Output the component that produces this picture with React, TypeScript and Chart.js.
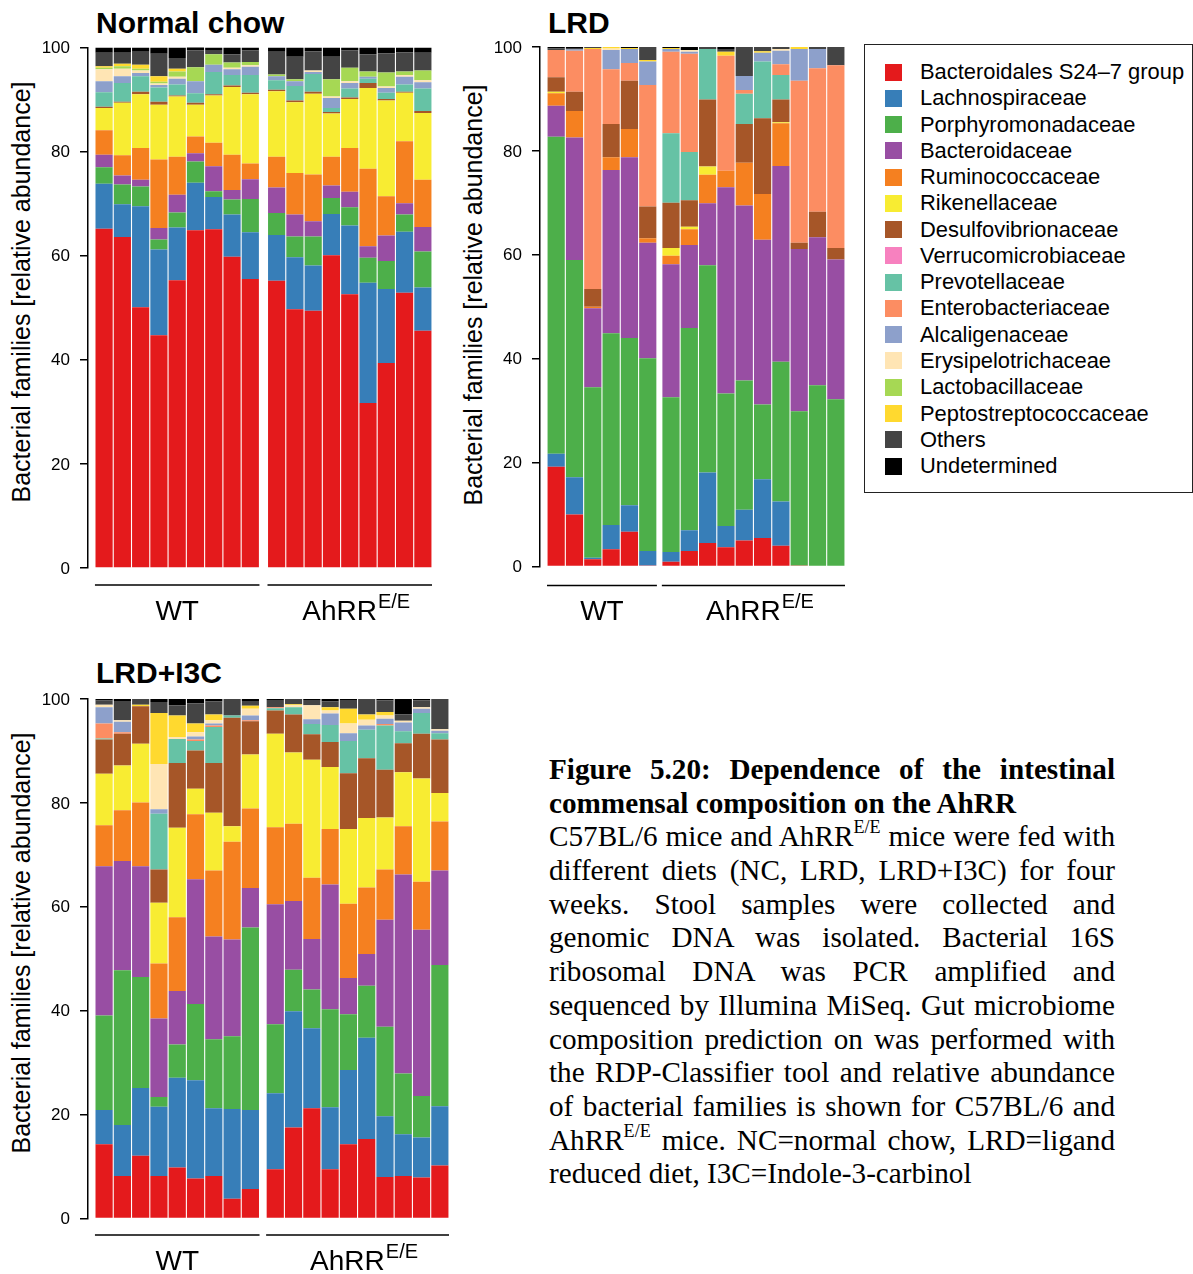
import React, { useEffect, useRef } from "react";
import { Chart, registerables } from "chart.js";

Chart.register(...registerables);

const FAMILIES = [
  "Bacteroidales S24–7 group",
  "Lachnospiraceae",
  "Porphyromonadaceae",
  "Bacteroidaceae",
  "Ruminococcaceae",
  "Rikenellaceae",
  "Desulfovibrionaceae",
  "Verrucomicrobiaceae",
  "Prevotellaceae",
  "Enterobacteriaceae",
  "Alcaligenaceae",
  "Erysipelotrichaceae",
  "Lactobacillaceae",
  "Peptostreptococcaceae",
  "Others",
  "Undetermined",
];

const COLORS = [
  "#E41A1C", "#377EB8", "#4DAF4A", "#984EA3", "#F58020", "#F8EC32", "#A65628", "#F781BF",
  "#66C2A5", "#FC8D62", "#8DA0CB", "#FFE5B4", "#A6D854", "#FFD92F", "#444444", "#000000",
];

const GROUP_LABELS = ["WT", "AhRR"];
const GROUP_SUPS = ["", "E/E"];

// ---------- Normal chow: 9 WT + 9 AhRR(E/E) ----------
const NC_GROUPS = [9, 9];
const NC_S247 = [65.2, 63.6, 50.1, 44.7, 55.3, 64.9, 65.1, 59.8, 55.5, 55.2, 49.7, 49.4, 60.1, 52.6, 31.7, 39.4, 52.9, 45.6];
const NC_LACHNO = [8.6, 6.3, 19.4, 16.5, 10.1, 9.1, 6.2, 8.1, 9.0, 8.8, 10.0, 8.7, 7.9, 13.2, 23.1, 14.2, 11.7, 8.3];
const NC_PORPHY = [3.2, 3.8, 3.8, 1.9, 2.9, 4.1, 1.1, 2.9, 6.4, 4.2, 4.0, 5.6, 3.1, 3.5, 4.8, 5.4, 3.3, 6.9];
const NC_BACTER = [2.4, 1.7, 1.3, 2.2, 3.4, 1.6, 4.8, 1.8, 3.8, 4.9, 4.2, 2.9, 2.4, 3.0, 2.2, 4.9, 2.2, 4.7];
const NC_RUMINO = [4.7, 3.9, 6.1, 13.2, 7.3, 3.2, 4.5, 6.8, 3.0, 5.9, 8.0, 9.0, 5.5, 8.4, 14.9, 7.5, 11.9, 9.1];
const NC_RIKEN = [4.3, 10.1, 10.3, 10.5, 11.6, 6.1, 9.1, 13.0, 13.3, 12.6, 13.6, 15.5, 8.3, 9.4, 15.5, 18.4, 9.3, 12.8];
const NC_DESULFO = [0.2, 0.2, 0.5, 0.6, 0.2, 0.4, 0.2, 0.3, 0.3, 0.3, 0.3, 0.4, 0.3, 0.3, 1.0, 0.3, 0.2, 0.4];
const NC_VERRUCO = [0, 0, 0, 0, 0, 0, 0, 0, 0, 0, 0, 0, 0, 0, 0, 0, 0, 0];
const NC_PREVO = [2.8, 3.6, 3.0, 2.7, 2.1, 1.8, 4.3, 2.0, 3.4, 1.8, 2.8, 3.4, 0.8, 1.7, 0.8, 1.2, 1.4, 4.3];
const NC_ENTERO = [0, 0, 0, 0, 0, 0, 0, 0, 0, 0, 0, 0, 0, 0, 0, 0, 0, 0];
const NC_ALCALI = [2.1, 1.3, 0.6, 0.5, 1.1, 2.3, 1.4, 1.1, 1.6, 0.8, 0.9, 0.4, 1.9, 1.1, 0.4, 0.9, 1.5, 1.2];
const NC_ERYSIP = [2.3, 1.4, 0.5, 0.3, 0.4, 0, 0, 0.3, 0.3, 0, 0, 0.3, 0.3, 0.3, 0, 0.3, 0.3, 0.4];
const NC_LACTO = [0.3, 0.5, 0.3, 0.3, 1.0, 2.7, 2.0, 1.0, 0.6, 0.3, 0.4, 0, 3.3, 2.6, 1.0, 2.7, 0.7, 1.9];
const NC_PEPTO = [0.3, 0.5, 0.8, 1.1, 0.5, 0, 0, 0, 0, 0, 0, 0, 0, 0, 0, 0, 0, 0];
const NC_OTHERS = [2.6, 2.1, 2.5, 4.3, 2.1, 3.2, 0.8, 1.6, 2.2, 4.4, 4.3, 3.7, 4.3, 3.3, 3.3, 3.7, 3.7, 3.4];
const NC_UNDET = [1.0, 1.0, 0.8, 1.2, 2.0, 0.7, 0.5, 1.3, 0.6, 0.8, 1.8, 0.7, 1.8, 0.6, 1.3, 1.1, 0.9, 1.0];

// ---------- LRD: 6 WT + 10 AhRR(E/E) ----------
const LRD_GROUPS = [6, 10];
const LRD_S247 = [19.2, 10.0, 1.4, 3.3, 6.7, 0.2, 0.9, 3.0, 4.5, 3.7, 5.0, 5.5, 4.0, 0.2, 0, 0];
const LRD_LACHNO = [2.5, 7.2, 0.3, 4.7, 5.1, 2.8, 1.9, 4.0, 13.6, 4.1, 5.9, 11.3, 8.5, 0, 0, 0];
const LRD_PORPHY = [61.0, 41.8, 32.8, 36.9, 32.2, 37.1, 29.8, 38.9, 39.9, 25.5, 24.9, 14.4, 26.9, 29.7, 34.9, 32.2];
const LRD_BACTER = [6.0, 23.6, 15.2, 31.4, 34.8, 22.2, 25.6, 16.0, 11.9, 39.7, 33.7, 31.7, 37.7, 31.2, 28.5, 26.9];
const LRD_RUMINO = [2.4, 5.1, 0.3, 2.5, 5.4, 0.9, 1.6, 3.0, 5.5, 3.2, 8.2, 8.8, 8.2, 0, 0, 0];
const LRD_RIKEN = [0.3, 0, 0, 0, 0, 0, 1.5, 0.5, 1.6, 0, 0, 0, 0.2, 0, 0, 0];
const LRD_DESULFO = [2.8, 3.7, 3.4, 6.4, 9.3, 6.1, 8.7, 5.1, 12.9, 0, 7.5, 14.6, 4.4, 1.2, 4.9, 2.2];
const LRD_VERRUCO = [0, 0, 0, 0, 0, 0, 0, 0, 0, 0, 0, 0, 0, 0, 0, 0];
const LRD_PREVO = [0, 0, 0, 0, 0, 0, 13.4, 9.3, 9.7, 0, 5.8, 10.9, 4.7, 0, 0, 0];
const LRD_ENTERO = [5.2, 7.9, 46.2, 10.5, 3.4, 23.4, 15.7, 18.9, 0, 22.1, 0.7, 0, 2.1, 31.2, 27.6, 35.2];
const LRD_ALCALI = [0, 0.2, 0, 3.7, 2.7, 4.5, 0.5, 0.4, 0, 0, 2.7, 1.7, 2.6, 6.1, 3.7, 0];
const LRD_ERYSIP = [0, 0, 0, 0.3, 0, 0, 0, 0.3, 0, 0, 0, 0, 0.3, 0, 0, 0];
const LRD_LACTO = [0, 0, 0, 0, 0, 0, 0, 0, 0, 0, 0, 0, 0, 0, 0, 0];
const LRD_PEPTO = [0, 0, 0.2, 0.3, 0.2, 0.3, 0.2, 0, 0, 0.8, 0, 0.3, 0, 0.4, 0, 0];
const LRD_OTHERS = [0.3, 0.3, 0.2, 0, 0, 2.5, 0, 0, 0.4, 0.5, 5.6, 0.8, 0.4, 0, 0.4, 3.5];
const LRD_UNDET = [0.3, 0.2, 0, 0, 0.2, 0, 0.2, 0.6, 0, 0.4, 0, 0, 0, 0, 0, 0];

// ---------- LRD+I3C: 9 WT + 10 AhRR(E/E) ----------
const I3C_GROUPS = [9, 10];
const I3C_S247 = [14.3, 8.2, 12.1, 8.2, 9.8, 7.7, 8.2, 3.8, 5.7, 9.5, 17.5, 21.2, 9.5, 14.3, 15.3, 8.0, 8.2, 7.9, 10.2];
const I3C_LACHNO = [6.6, 9.8, 13.0, 13.3, 17.3, 18.9, 13.0, 17.3, 15.2, 14.6, 22.4, 15.4, 11.9, 14.3, 19.5, 11.7, 8.0, 7.7, 11.4];
const I3C_PORPHY = [18.2, 29.8, 21.4, 1.9, 6.4, 14.7, 13.3, 14.0, 35.1, 13.3, 8.0, 7.5, 18.9, 10.7, 10.0, 17.2, 11.7, 8.0, 27.2];
const I3C_BACTER = [28.7, 21.0, 21.3, 15.1, 10.3, 24.0, 19.8, 18.6, 7.6, 23.1, 13.2, 9.7, 24.0, 7.0, 6.1, 20.6, 38.3, 32.0, 18.2];
const I3C_RUMINO = [7.9, 9.8, 12.3, 10.6, 14.2, 12.5, 12.7, 18.8, 15.3, 14.8, 14.9, 11.8, 10.7, 14.3, 12.8, 9.7, 9.3, 9.2, 9.4];
const I3C_RIKEN = [9.9, 8.6, 11.3, 11.7, 17.2, 4.9, 11.1, 3.0, 10.4, 18.0, 13.7, 22.7, 11.9, 14.4, 13.4, 10.0, 10.4, 19.9, 5.5];
const I3C_DESULFO = [6.6, 6.1, 7.2, 6.4, 12.5, 7.4, 9.6, 20.9, 6.4, 4.5, 7.3, 4.9, 4.8, 10.7, 11.5, 9.2, 5.6, 8.6, 10.3];
const I3C_VERRUCO = [0, 0, 0, 0, 0, 0, 0, 0, 0, 0, 0, 0, 0, 0, 0, 0, 0, 0, 0];
const I3C_PREVO = [0.2, 0, 0, 10.7, 4.6, 1.8, 6.9, 0.4, 0, 0.4, 1.4, 2.0, 3.3, 6.2, 5.5, 8.5, 2.3, 4.0, 1.2];
const I3C_ENTERO = [2.9, 0.3, 0, 0, 0, 0.3, 0.3, 0, 0.2, 0.2, 0, 0, 0, 0, 0, 0.3, 0, 0, 0];
const I3C_ALCALI = [3.1, 2.0, 0, 0.9, 0, 0.6, 0.4, 0, 0.9, 0, 0, 0.9, 2.2, 1.5, 0.8, 1.0, 1.7, 0.8, 0.5];
const I3C_ERYSIP = [0.5, 0.3, 0, 8.7, 0.4, 0.8, 0.6, 0, 1.3, 0, 0.4, 2.7, 0.6, 1.9, 1.1, 0.6, 0.3, 0.3, 0.3];
const I3C_LACTO = [0, 0, 0, 0, 0, 0, 0, 0, 0, 0, 0, 0, 0, 0, 0, 0, 0, 0, 0];
const I3C_PEPTO = [0, 0, 0.3, 9.8, 4.1, 1.7, 1.1, 0, 0.6, 0, 0.2, 0, 0.6, 2.8, 1.0, 0.7, 0, 0, 0];
const I3C_OTHERS = [0.8, 3.7, 1.1, 2.1, 2.0, 3.9, 2.5, 3.2, 0.9, 1.4, 1.0, 1.0, 1.1, 1.7, 3.0, 2.2, 1.2, 1.3, 5.8];
const I3C_UNDET = [0.3, 0.4, 0, 0.6, 1.2, 0.8, 0.5, 0, 0.4, 0.2, 0, 0.2, 0.5, 0.2, 0, 0.3, 3.0, 0.3, 0];

const NC_SERIES = [NC_S247, NC_LACHNO, NC_PORPHY, NC_BACTER, NC_RUMINO, NC_RIKEN, NC_DESULFO, NC_VERRUCO,
  NC_PREVO, NC_ENTERO, NC_ALCALI, NC_ERYSIP, NC_LACTO, NC_PEPTO, NC_OTHERS, NC_UNDET];
const LRD_SERIES = [LRD_S247, LRD_LACHNO, LRD_PORPHY, LRD_BACTER, LRD_RUMINO, LRD_RIKEN, LRD_DESULFO, LRD_VERRUCO,
  LRD_PREVO, LRD_ENTERO, LRD_ALCALI, LRD_ERYSIP, LRD_LACTO, LRD_PEPTO, LRD_OTHERS, LRD_UNDET];
const I3C_SERIES = [I3C_S247, I3C_LACHNO, I3C_PORPHY, I3C_BACTER, I3C_RUMINO, I3C_RIKEN, I3C_DESULFO, I3C_VERRUCO,
  I3C_PREVO, I3C_ENTERO, I3C_ALCALI, I3C_ERYSIP, I3C_LACTO, I3C_PEPTO, I3C_OTHERS, I3C_UNDET];

const SANS = '"Liberation Sans", Arial, Helvetica, sans-serif';
const SERIF = '"Liberation Serif", "Times New Roman", Times, serif';

function xPositions(groups: number[], gap: number) {
  const xs: number[] = [];
  let start = 0;
  groups.forEach((n) => {
    for (let i = 0; i < n; i++) xs.push(start + i + 0.5);
    start += n + gap;
  });
  return xs;
}

const groupPlugin = {
  id: "groupLabels",
  afterDraw(chart: any, _args: any, opts: any) {
    const { ctx, chartArea, scales } = chart;
    const xs = scales.x;
    let start = 0;
    opts.groups.forEach((n: number, gi: number) => {
      const x1 = xs.getPixelForValue(start);
      const x2 = xs.getPixelForValue(start + n);
      const yl = chartArea.bottom + opts.lineOffset;
      ctx.save();
      ctx.strokeStyle = "#000";
      ctx.lineWidth = 1.5;
      ctx.beginPath();
      ctx.moveTo(x1, yl);
      ctx.lineTo(x2, yl);
      ctx.stroke();
      const label = GROUP_LABELS[gi];
      const sup = GROUP_SUPS[gi];
      ctx.font = `28px ${SANS}`;
      const w1 = ctx.measureText(label).width;
      ctx.font = `20px ${SANS}`;
      const w2 = sup ? ctx.measureText(sup).width : 0;
      const cx = (x1 + x2) / 2 + (sup ? 6 : 0);
      const x = cx - (w1 + w2) / 2;
      const yb = chartArea.bottom + opts.labelOffset;
      ctx.fillStyle = "#000";
      ctx.textAlign = "left";
      ctx.textBaseline = "alphabetic";
      ctx.font = `28px ${SANS}`;
      ctx.fillText(label, x, yb);
      if (sup) {
        ctx.font = `20px ${SANS}`;
        ctx.fillText(sup, x + w1 + 1, yb - 12);
      }
      ctx.restore();
      start += n + opts.gap;
    });
  },
};

type PanelProps = {
  series: number[][];
  groups: number[];
  gap: number;
  left: number;
  top: number;
  width: number;
  height: number;
  axisWidth: number;
  axisGap: number;
  padRight: number;
  padTop: number;
  padBottom: number;
  lineOffset: number;
  labelOffset: number;
};

function BarPanel(p: PanelProps) {
  const ref = useRef<HTMLCanvasElement>(null);
  useEffect(() => {
    if (!ref.current) return;
    const xs = xPositions(p.groups, p.gap);
    const total = p.groups.reduce((a, b) => a + b, 0) + p.gap * (p.groups.length - 1);
    const datasets = FAMILIES.map((name, k) => ({
      label: name,
      data: p.series[k].map((v, i) => ({ x: xs[i], y: v })),
      backgroundColor: COLORS[k],
      borderWidth: 0,
      barPercentage: 0.94,
      categoryPercentage: 1,
    }));
    const chart = new Chart(ref.current, {
      type: "bar",
      data: { datasets } as any,
      options: {
        animation: false,
        responsive: false,
        devicePixelRatio: 1,
        layout: { padding: { left: 0, right: p.padRight, top: p.padTop, bottom: p.padBottom } },
        plugins: {
          legend: { display: false },
          tooltip: { enabled: false },
          groupLabels: { groups: p.groups, gap: p.gap, lineOffset: p.lineOffset, labelOffset: p.labelOffset },
        } as any,
        scales: {
          x: {
            type: "linear",
            display: false,
            min: -p.axisGap,
            max: total,
            stacked: true,
            offset: false,
          },
          y: {
            stacked: true,
            min: 0,
            max: 100,
            afterFit: (s: any) => {
              s.width = p.axisWidth;
            },
            ticks: { stepSize: 20, font: { family: SANS, size: 17 }, color: "#000", padding: 10, labelOffset: 1 },
            grid: { display: true, drawOnChartArea: false, drawTicks: true, tickLength: 8, color: "#000", lineWidth: 1.5 },
            border: { display: true, color: "#000", width: 1.5 },
          },
        } as any,
      },
      plugins: [groupPlugin as any],
    });
    return () => chart.destroy();
  }, []);
  return (
    <canvas
      ref={ref}
      width={p.width}
      height={p.height}
      style={{ position: "absolute", left: p.left, top: p.top, width: p.width, height: p.height }}
    />
  );
}

function Text(props: { x: number; baseline: number; size: number; bold?: boolean; children: any }) {
  return (
    <div
      style={{
        position: "absolute",
        left: props.x,
        top: props.baseline - 0.8465 * props.size,
        fontFamily: SANS,
        fontSize: props.size,
        fontWeight: props.bold ? "bold" : "normal",
        lineHeight: `${props.size}px`,
        whiteSpace: "nowrap",
        color: "#000",
      }}
    >
      {props.children}
    </div>
  );
}

function AxisTitle(props: { cx: number; cy: number }) {
  return (
    <div
      style={{
        position: "absolute",
        left: props.cx,
        top: props.cy,
        transform: "translate(-50%, -50%) rotate(-90deg)",
        fontFamily: SANS,
        fontSize: 25,
        lineHeight: "25px",
        whiteSpace: "nowrap",
        color: "#000",
      }}
    >
      Bacterial families [relative abundance]
    </div>
  );
}

const SUP_STYLE: React.CSSProperties = { fontSize: "0.62em", verticalAlign: "0.72em", lineHeight: 0 };

const CAPTION_LINES: any[] = [
  { bold: true, content: "Figure 5.20: Dependence of the intestinal" },
  { bold: true, content: "commensal composition on the AhRR", last: true },
  { content: <>C57BL/6 mice and AhRR<span style={SUP_STYLE}>E/E</span> mice were fed with</> },
  { content: "different diets (NC, LRD, LRD+I3C) for four" },
  { content: "weeks. Stool samples were collected and" },
  { content: "genomic DNA was isolated. Bacterial 16S" },
  { content: "ribosomal DNA was PCR amplified and" },
  { content: "sequenced by Illumina MiSeq. Gut microbiome" },
  { content: "composition prediction on was performed with" },
  { content: "the RDP-Classifier tool and relative abundance" },
  { content: "of bacterial families is shown for C57BL/6 and" },
  { content: <>AhRR<span style={SUP_STYLE}>E/E</span> mice. NC=normal chow, LRD=ligand</> },
  { content: "reduced diet, I3C=Indole-3-carbinol", last: true },
];

function Caption() {
  const size = 29.2;
  const lh = 33.7;
  return (
    <div style={{ position: "absolute", left: 549, top: 780 - 27, width: 566, fontFamily: SERIF, fontSize: size, color: "#000" }}>
      {CAPTION_LINES.map((l, i) => (
        <div
          key={i}
          style={{
            height: lh,
            lineHeight: `${lh}px`,
            fontWeight: l.bold ? "bold" : "normal",
            textAlign: "justify",
            textAlignLast: l.last ? "left" : "justify",
            whiteSpace: "nowrap",
          }}
        >
          {l.content}
        </div>
      ))}
    </div>
  );
}

function Legend() {
  return (
    <div
      style={{
        position: "absolute",
        left: 864,
        top: 44,
        width: 327,
        height: 447,
        border: "1px solid #222",
        background: "#fff",
      }}
    >
      {FAMILIES.map((f, i) => (
        <div key={f} style={{ position: "absolute", left: 0, top: 28 - 1 + i * 26.27 - 13, height: 26, width: 327 }}>
          <div style={{ position: "absolute", left: 20, top: 4.5, width: 17, height: 17, background: COLORS[i] }} />
          <div
            style={{
              position: "absolute",
              left: 55,
              top: 0,
              height: 26,
              lineHeight: "26px",
              fontFamily: SANS,
              fontSize: 21.9,
              whiteSpace: "nowrap",
              color: "#000",
            }}
          >
            {f}
          </div>
        </div>
      ))}
    </div>
  );
}

export default function App() {
  return (
    <div style={{ position: "absolute", left: 0, top: 0, width: 1193, height: 1274, background: "#fff", overflow: "hidden" }}>
      <Text x={96} baseline={33} size={30} bold>Normal chow</Text>
      <Text x={548} baseline={33} size={30} bold>LRD</Text>
      <Text x={96} baseline={683} size={30} bold>LRD+I3C</Text>

      <AxisTitle cx={21} cy={292} />
      <AxisTitle cx={473} cy={295} />
      <AxisTitle cx={21} cy={943} />

      <BarPanel
        series={NC_SERIES}
        groups={NC_GROUPS}
        gap={0.44}
        left={0}
        top={0}
        width={445}
        height={640}
        axisWidth={88}
        axisGap={0.38}
        padRight={13}
        padTop={47.5}
        padBottom={72}
        lineOffset={17}
        labelOffset={52}
      />
      <BarPanel
        series={LRD_SERIES}
        groups={LRD_GROUPS}
        gap={0.27}
        left={450}
        top={0}
        width={405}
        height={640}
        axisWidth={90}
        axisGap={0.383}
        padRight={10}
        padTop={47}
        padBottom={73.5}
        lineOffset={19}
        labelOffset={53}
      />
      <BarPanel
        series={I3C_SERIES}
        groups={I3C_GROUPS}
        gap={0.36}
        left={0}
        top={650}
        width={460}
        height={624}
        axisWidth={88}
        axisGap={0.38}
        padRight={11}
        padTop={49}
        padBottom={55.5}
        lineOffset={16.5}
        labelOffset={51.5}
      />

      <Legend />
      <Caption />
    </div>
  );
}
